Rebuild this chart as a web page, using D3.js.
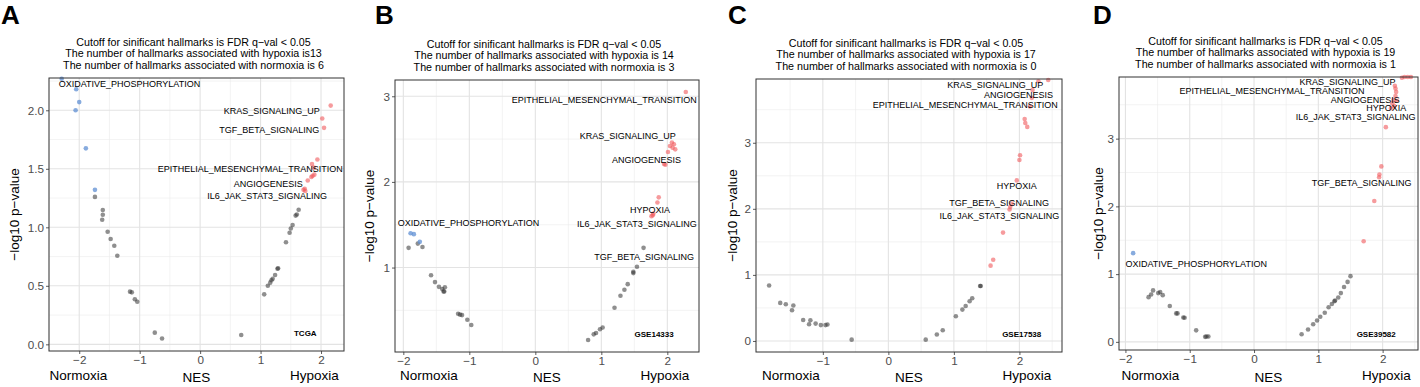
<!DOCTYPE html>
<html><head><meta charset="utf-8">
<script src="https://cdn.jsdelivr.net/npm/d3@7"></script>
<style>body{margin:0;background:#fff}svg{display:block}</style>
</head><body>
<script>
// ---------------- DATA ----------------
// Panel A — TCGA  ([NES, -log10 p])
const tcgaHypoxia = [[2.16,2.04],[2.02,1.93],[2.05,1.85],[1.94,1.58],[1.85,1.54],[1.88,1.51],[1.86,1.44],[1.84,1.43],[1.78,1.40],[1.73,1.33],[1.71,1.32],[1.74,1.31],[1.89,1.45]];
const tcgaNormoxia = [[-2.29,2.27],[-2.05,2.18],[-2.0,2.07],[-2.06,2.0],[-1.89,1.675],[-1.74,1.32]];
const tcgaNS = [[-1.74,1.26],[-1.61,1.148],[-1.61,1.108],[-1.62,1.065],[-1.53,0.962],[-1.48,0.90],[-1.42,0.843],[-1.37,0.757],[-1.16,0.45],[-1.13,0.444],[-1.08,0.385],[-1.04,0.364],[-0.75,0.10],[-0.63,0.05],
  [0.68,0.08],[1.06,0.427],[1.12,0.50],[1.16,0.527],[1.18,0.547],[1.20,0.56],[1.24,0.592],[1.28,0.646],[1.29,0.65],[1.42,0.872],[1.48,0.954],[1.50,0.99],[1.53,1.02],[1.58,1.10],[1.60,1.11],[1.63,1.15]];
const tcgaLabelText = ["OXIDATIVE_PHOSPHORYLATION","KRAS_SIGNALING_UP","TGF_BETA_SIGNALING","EPITHELIAL_MESENCHYMAL_TRANSITION","ANGIOGENESIS","IL6_JAK_STAT3_SIGNALING"];
const tcgaLabelAt = [[-1.17,2.225],[1.98,2.00],[1.97,1.83],[2.36,1.498],[1.70,1.37],[2.10,1.267]];

// Panel B — GSE14333
const gse14333Hypoxia = [[2.28,3.05],[2.07,2.46],[2.10,2.44],[2.04,2.42],[2.12,2.38],[2.01,2.35],[2.08,2.40],[1.95,2.21],[1.97,2.20],[1.87,1.82],[1.85,1.76],[1.79,1.63],[1.76,1.60],[1.78,1.61]];
const gse14333Normoxia = [[-1.89,1.40],[-1.84,1.39],[-1.75,1.30]];
const gse14333NS = [[-1.92,1.23],[-1.78,1.28],[-1.71,1.24],[-1.58,0.91],[-1.52,0.83],[-1.46,0.775],[-1.41,0.75],[-1.39,0.72],[-1.37,0.77],[-1.38,0.72],[-1.17,0.46],[-1.14,0.45],[-1.11,0.445],[-1.03,0.39],[-0.97,0.33],
  [0.80,0.154],[0.885,0.22],[0.92,0.235],[0.98,0.28],[1.02,0.30],[1.20,0.53],[1.29,0.67],[1.35,0.74],[1.40,0.806],[1.485,0.935],[1.485,0.95],[1.54,1.01],[1.64,1.23]];
const gse14333LabelText = ["EPITHELIAL_MESENCHYMAL_TRANSITION","KRAS_SIGNALING_UP","ANGIOGENESIS","HYPOXIA","IL6_JAK_STAT3_SIGNALING","OXIDATIVE_PHOSPHORYLATION","TGF_BETA_SIGNALING"];
const gse14333LabelAt = [[2.445,2.963],[2.127,2.535],[2.208,2.255],[2.04,1.68],[2.445,1.506],[-2.085,1.521],[2.405,1.128]];

// Panel C — GSE17538
const gse17538Hypoxia = [[2.44,3.95],[2.29,3.93],[2.20,3.80],[2.19,3.68],[2.16,3.55],[2.08,3.36],[2.09,3.30],[2.12,3.24],[2.01,2.81],[2.00,2.74],[1.96,2.43],[1.88,2.08],[1.86,2.03],[1.85,1.99],[1.75,1.64],[1.60,1.23],[1.56,1.14]];
const gse17538Normoxia = [];
const gse17538NS = [[-1.82,0.84],[-1.65,0.576],[-1.565,0.556],[-1.45,0.536],[-1.47,0.465],[-1.30,0.318],[-1.19,0.313],[-1.21,0.253],[-1.11,0.263],[-1.03,0.24],[-0.96,0.24],[-0.93,0.25],[-0.56,0.02],
  [0.57,0.02],[0.74,0.097],[0.83,0.162],[1.03,0.374],[1.13,0.475],[1.18,0.53],[1.24,0.60],[1.28,0.647],[1.40,0.833],[1.41,0.833]];
const gse17538LabelText = ["KRAS_SIGNALING_UP","ANGIOGENESIS","EPITHELIAL_MESENCHYMAL_TRANSITION","HYPOXIA","TGF_BETA_SIGNALING","IL6_JAK_STAT3_SIGNALING"];
const gse17538LabelAt = [[2.365,3.874],[2.513,3.733],[2.585,3.571],[2.264,2.344],[2.452,2.091],[2.609,1.894]];

// Panel D — GSE39582
const gse39582Hypoxia = [[1.705,1.485],[1.87,2.08],[1.945,2.43],[1.95,2.47],[1.98,2.59],[2.05,3.17],[2.13,3.45],[2.15,3.52],[2.17,3.57],[2.20,3.63],[2.21,3.69],[2.20,3.74],[2.19,3.78],[2.22,3.56],[2.18,3.48],[2.30,3.90],[2.34,3.91],[2.39,3.91],[2.44,3.91]];
const gse39582Normoxia = [[-1.88,1.31]];
const gse39582NS = [[-1.64,0.66],[-1.60,0.70],[-1.57,0.76],[-1.49,0.72],[-1.46,0.735],[-1.42,0.69],[-1.31,0.53],[-1.21,0.42],[-1.19,0.42],[-1.10,0.36],[-1.08,0.355],[-0.90,0.17],[-0.76,0.074],[-0.74,0.08],[-0.71,0.08],
  [0.74,0.113],[0.84,0.183],[0.92,0.26],[0.98,0.315],[1.03,0.37],[1.10,0.43],[1.16,0.51],[1.21,0.56],[1.25,0.60],[1.26,0.61],[1.31,0.655],[1.35,0.72],[1.40,0.81],[1.455,0.885],[1.50,0.97]];
const gse39582LabelText = ["KRAS_SIGNALING_UP","EPITHELIAL_MESENCHYMAL_TRANSITION","ANGIOGENESIS","HYPOXIA","IL6_JAK_STAT3_SIGNALING","TGF_BETA_SIGNALING","OXIDATIVE_PHOSPHORYLATION"];
const gse39582LabelAt = [[2.20,3.835],[1.72,3.70],[2.267,3.58],[2.367,3.457],[2.51,3.319],[2.45,2.345],[-2.0,1.156]];

const panelLetters = ["A","B","C","D"];
const datasetNames = ["TCGA","GSE14333","GSE17538","GSE39582"];
const datasetAt = [[1.74,0.10],[1.80,0.224],[2.035,0.10],[1.90,0.114]];
const hypoxiaCounts = ["is13","is 14","is 17","is 19"];
const normoxiaCounts = ["6","3","0","1"];
const xTickValues = [[-2,-1,0,1,2],[-2,-1,0,1,2],[-1,0,1,2],[-2,-1,0,1,2]];
const yTickValues = [[0,0.5,1,1.5,2],[1,2,3],[0,1,2,3],[0,1,2,3]];
const yTickFormats = [".1f","d","d","d"];
const xDomains = [[-2.50,2.38],[-2.126,2.48],[-2.02,2.65],[-2.10,2.55]];
const yDomains = [[-0.057,2.276],[0.014,3.19],[-0.167,3.965],[-0.12,3.91]];

// ---------------- LAYOUT ----------------
const W = 1420, H = 387;
const rects = [
  {x0:49, x1:344, y0:78, y1:351, letterX:1, ytitleX:19},
  {x0:395,x1:699, y0:80, y1:352, letterX:375, ytitleX:374},
  {x0:756,x1:1062,y0:79, y1:352, letterX:728, ytitleX:737},
  {x0:1119,x1:1418,y0:77,y1:350, letterX:1093, ytitleX:1103}
];
const FONT = "'Liberation Sans', Arial, Helvetica, sans-serif";
const colHyp = "#F0585C", colNor = "#5F8FD3", colNS = "#333333";

const svg = d3.select("body").append("svg").attr("width",W).attr("height",H)
  .style("font-family",FONT);

const sets = [
  [tcgaHypoxia,tcgaNormoxia,tcgaNS,tcgaLabelText,tcgaLabelAt],
  [gse14333Hypoxia,gse14333Normoxia,gse14333NS,gse14333LabelText,gse14333LabelAt],
  [gse17538Hypoxia,gse17538Normoxia,gse17538NS,gse17538LabelText,gse17538LabelAt],
  [gse39582Hypoxia,gse39582Normoxia,gse39582NS,gse39582LabelText,gse39582LabelAt]
];

function minorTicks(majors, domain){
  const step = majors[1]-majors[0];
  const out = [];
  const lo = Math.floor(domain[0]/step)*step - step;
  for (let v = lo + step/2; v <= domain[1]; v += step){
    if (v >= domain[0] && v <= domain[1]) out.push(+v.toFixed(6));
  }
  return out;
}

sets.forEach((s,i)=>{
  const [hyp, nor, ns, ltext, lat] = s;
  const r = rects[i];
  const x = d3.scaleLinear().domain(xDomains[i]).range([r.x0, r.x1]);
  const y = d3.scaleLinear().domain(yDomains[i]).range([r.y1, r.y0]);
  const g = svg.append("g");
  const cx = (r.x0 + r.x1)/2;

  // panel letter
  g.append("text").attr("x", r.letterX).attr("y", 24).attr("font-size", 26).attr("font-weight","bold")
    .attr("fill","#000").text(panelLetters[i]);

  // title
  const tl = ["Cutoff for sinificant hallmarks is FDR q\u2212val < 0.05",
              "The number of hallmarks associated with hypoxia " + hypoxiaCounts[i],
              "The number of hallmarks associated with normoxia is " + normoxiaCounts[i]];
  tl.forEach((t,k)=>{
    g.append("text").attr("x", cx - 3).attr("y", r.y0 - 32 + k*11.4).attr("text-anchor","middle")
      .attr("font-size", 10.7).attr("fill","#000").text(t);
  });

  // grid
  const gx = minorTicks(xTickValues[i], xDomains[i]);
  const gy = minorTicks(yTickValues[i], yDomains[i]);
  const grid = g.append("g");
  grid.selectAll(".mx").data(gx).join("line").attr("x1",d=>x(d)).attr("x2",d=>x(d)).attr("y1",r.y0).attr("y2",r.y1)
    .attr("stroke","#EBEBEB").attr("stroke-width",0.6);
  grid.selectAll(".my").data(gy).join("line").attr("y1",d=>y(d)).attr("y2",d=>y(d)).attr("x1",r.x0).attr("x2",r.x1)
    .attr("stroke","#EBEBEB").attr("stroke-width",0.6);
  grid.selectAll(".Mx").data(xTickValues[i]).join("line").attr("x1",d=>x(d)).attr("x2",d=>x(d)).attr("y1",r.y0).attr("y2",r.y1)
    .attr("stroke","#E3E3E3").attr("stroke-width",1.1);
  grid.selectAll(".My").data(yTickValues[i]).join("line").attr("y1",d=>y(d)).attr("y2",d=>y(d)).attr("x1",r.x0).attr("x2",r.x1)
    .attr("stroke","#E3E3E3").attr("stroke-width",1.1);

  // axes
  const xa = g.append("g").attr("transform",`translate(0,${r.y1})`)
    .call(d3.axisBottom(x).tickValues(xTickValues[i]).tickSize(3).tickPadding(2).tickFormat(d=>d3.format("d")(d).replace("-","\u2212")));
  const ya = g.append("g").attr("transform",`translate(${r.x0},0)`)
    .call(d3.axisLeft(y).tickValues(yTickValues[i]).tickSize(3).tickPadding(2).tickFormat(d3.format(yTickFormats[i])));
  [xa,ya].forEach(a=>{
    a.select(".domain").remove();
    a.selectAll("line").attr("stroke","#333").attr("stroke-width",0.8);
    a.selectAll("text").attr("fill","#4D4D4D").attr("font-size",11.7).attr("font-family",FONT);
  });

  // points
  const pts = g.append("g");
  const draw = (data,col,op)=> pts.selectAll(null).data(data).join("circle")
      .attr("cx",d=>x(d[0])).attr("cy",d=>y(d[1])).attr("r",2.3).attr("fill",col).attr("fill-opacity",op);
  draw(ns, colNS, 0.55);
  draw(nor, colNor, 0.75);
  draw(hyp, colHyp, 0.6);

  // labels
  g.append("g").selectAll("text").data(ltext.map((t,k)=>({t, p:lat[k]}))).join("text")
    .attr("x",d=>x(d.p[0])).attr("y",d=>y(d.p[1])).attr("dy","0.36em")
    .attr("text-anchor",d=> d.t==="OXIDATIVE_PHOSPHORYLATION" ? (i===0 ? "middle":"start") : "end")
    .attr("font-size",9).attr("fill","#000").text(d=>d.t);

  g.append("text").attr("x",x(datasetAt[i][0])).attr("y",y(datasetAt[i][1])).attr("dy","0.36em")
    .attr("text-anchor","middle").attr("font-size",8).attr("font-weight","bold").attr("fill","#000").text(datasetNames[i]);

  // border
  g.append("rect").attr("x",r.x0).attr("y",r.y0).attr("width",r.x1-r.x0).attr("height",r.y1-r.y0)
    .attr("fill","none").attr("stroke","#333").attr("stroke-width",1);

  // axis titles
  g.append("text").attr("x",cx-118).attr("y",379.5).attr("text-anchor","middle").attr("font-size",13.5).attr("fill","#000").text("Normoxia");
  g.append("text").attr("x",cx).attr("y",381.5).attr("text-anchor","middle").attr("font-size",13.5).attr("fill","#000").text("NES");
  g.append("text").attr("x",cx+118).attr("y",379.5).attr("text-anchor","middle").attr("font-size",13.5).attr("fill","#000").text("Hypoxia");
  g.append("text").attr("transform",`translate(${r.ytitleX},${(r.y0+r.y1)/2}) rotate(-90)`).attr("text-anchor","middle")
    .attr("font-size",13.5).attr("fill","#000").text("\u2212log10 p\u2212value");
});
</script>
</body></html>
